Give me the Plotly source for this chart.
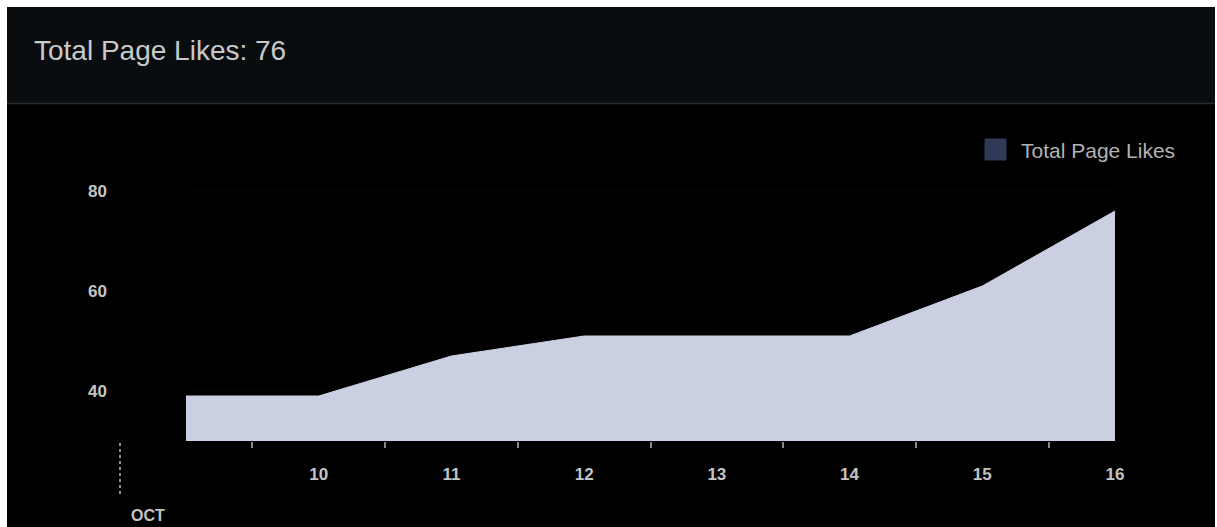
import plotly.graph_objects as go

# ---- data ----
dates = ["2023-10-09", "2023-10-10", "2023-10-11", "2023-10-12",
         "2023-10-13", "2023-10-14", "2023-10-15", "2023-10-16"]
likes = [39, 39, 47, 51, 51, 51, 61, 76]
tick_dates = ["2023-10-10", "2023-10-11", "2023-10-12", "2023-10-13",
              "2023-10-14", "2023-10-15", "2023-10-16"]
tick_labels = ["10", "11", "12", "13", "14", "15", "16"]
y_ticks = [40, 60, 80]
series_name = "Total Page Likes"
title_text = "Total Page Likes: 76"
month_label = "OCT"

# ---- layout geometry (pixels) ----
W, H = 1217, 527
PL, PR, PT, PB = 186, 1115, 151, 441
pw, ph = PR - PL, PB - PT


def px_x(x):
    return (x - PL) / pw


def px_y(y):
    return (PB - y) / ph


FONT = "Liberation Sans, Arial, Helvetica, sans-serif"

fig = go.Figure()
fig.add_trace(go.Scatter(
    x=dates, y=likes, mode="lines", name=series_name,
    line=dict(color="rgb(204,210,228)", width=1),
    fill="tozeroy", fillcolor="rgba(206,212,230,0.98)",
    showlegend=False, hoverinfo="x+y",
))

shapes = [
    # dark panel
    dict(type="rect", xref="paper", yref="paper", layer="below",
         x0=px_x(7), x1=px_x(1215), y0=px_y(W), y1=px_y(104),
         fillcolor="#000000", line=dict(width=0)),
    # header band
    dict(type="rect", xref="paper", yref="paper", layer="below",
         x0=px_x(7), x1=px_x(1215), y0=px_y(103), y1=px_y(7),
         fillcolor="#0a0d10", line=dict(width=0)),
    # separator
    dict(type="line", xref="paper", yref="paper", layer="below",
         x0=px_x(7), x1=px_x(1215), y0=px_y(103.5), y1=px_y(103.5),
         line=dict(color="#2a2a2a", width=1.5)),
    # legend swatch
    dict(type="rect", xref="paper", yref="paper",
         x0=px_x(985), x1=px_x(1006), y0=px_y(160), y1=px_y(139),
         fillcolor="#2f3a57", line=dict(color="#2f3a57", width=1)),
    # month marker dotted line
    dict(type="line", xref="paper", yref="paper",
         x0=px_x(120), x1=px_x(120), y0=px_y(443), y1=px_y(495),
         line=dict(color="#bdbdbd", width=1.5, dash="dot")),
]

annotations = [
    dict(text=title_text, xref="paper", yref="paper", x=px_x(32), y=px_y(50),
         xanchor="left", yanchor="middle", showarrow=False,
         font=dict(family=FONT, size=28, color="#c9c9c9")),
    dict(text=series_name, xref="paper", yref="paper", x=px_x(1019), y=px_y(150),
         xanchor="left", yanchor="middle", showarrow=False,
         font=dict(family=FONT, size=21, color="#b3b3b3")),
    dict(text="<b>" + month_label + "</b>", xref="paper", yref="paper",
         x=px_x(129), y=px_y(515), xanchor="left", yanchor="middle",
         showarrow=False, font=dict(family=FONT, size=16, color="#c4c4c4")),
]

fig.update_layout(
    width=W, height=H,
    margin=dict(l=PL, r=W - PR, t=PT, b=H - PB, pad=0),
    paper_bgcolor="#ffffff", plot_bgcolor="#000000",
    shapes=shapes, annotations=annotations,
    showlegend=False,
    font=dict(family=FONT),
)

fig.update_xaxes(
    type="date", range=[dates[0], dates[-1]],
    tickmode="array", tickvals=tick_dates, ticktext=tick_labels,
    ticks="", showgrid=False, zeroline=False, showline=False,
    tickfont=dict(family=FONT, size=17, color="#c4c4c4", weight="bold"),
    ticklabelstandoff=21,
    minor=dict(ticks="outside", ticklen=6, tickwidth=1.5, tickcolor="#8a8a8a",
               tick0="2023-10-09 12:00", dtick=86400000, showgrid=False),
)

fig.update_yaxes(
    range=[30, 88], tickmode="array", tickvals=y_ticks,
    ticks="", showgrid=True, gridcolor="rgba(255,255,255,0.02)", gridwidth=1,
    zeroline=False, showline=False,
    tickfont=dict(family=FONT, size=17, color="#c4c4c4", weight="bold"),
    ticklabelstandoff=78,
)

fig.write_html("out.html")
